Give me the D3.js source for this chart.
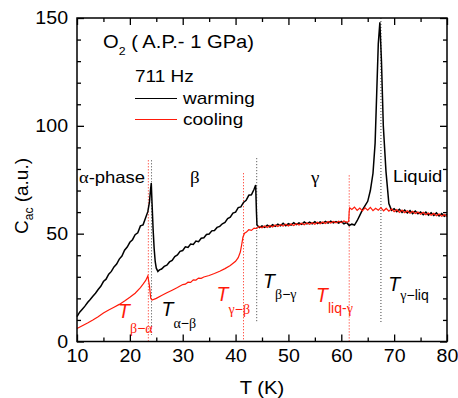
<!DOCTYPE html>
<html>
<head>
<meta charset="utf-8">
<script src="https://cdn.jsdelivr.net/npm/d3@7"></script>
<style>
  body { margin: 0; background: #fff; }
  svg { display: block; font-family: "Liberation Sans", Arial, sans-serif; }
</style>
</head>
<body>
<svg id="chart" width="458" height="398"></svg>
<script>
"use strict";

// warming run, [T (K), C_ac]
var warming = [
  [10.0,11.5],[10.5,13.6],[11.0,15.0],[11.5,16.4],[12.0,18.1],[12.5,19.5],[13.0,21.0],[13.5,22.4],
  [14.0,24.1],[14.5,25.6],[15.0,27.8],[15.5,28.9],[16.0,31.2],[16.5,32.5],[17.0,34.6],[17.5,35.9],
  [18.0,38.2],[18.5,39.6],[19.0,42.3],[19.5,43.8],[20.0,46.0],[20.5,47.2],[21.0,49.5],[21.5,50.4],
  [22.0,53.6],[22.5,54.1],[23.0,57.5],[23.4,60.2],[23.7,64.5],[23.9,70.0],[24.05,73.5],[24.2,64.0],
  [24.4,52.0],[24.6,43.0],[24.8,37.0],[25.0,34.0],[25.3,32.5],[25.6,33.2],[26.0,33.6],[26.5,34.8],
  [27.0,35.4],[27.5,36.9],[28.0,37.6],[28.5,39.4],[29.0,40.1],[29.5,41.8],[30.0,42.2],[30.5,43.9],
  [31.0,43.6],[31.5,45.2],[32.0,45.0],[32.5,46.6],[33.0,46.3],[33.5,47.9],[34.0,48.1],[34.5,49.6],
  [35.0,49.8],[35.5,51.3],[36.0,51.5],[36.5,52.9],[37.0,53.4],[37.5,54.6],[38.0,55.2],[38.5,57.0],
  [39.0,57.6],[39.5,59.5],[40.0,60.0],[40.5,62.1],[41.0,62.4],[41.5,64.5],[42.0,65.5],[42.5,67.8],
  [43.0,68.0],[43.5,70.6],[43.8,72.5],[43.95,60.0],[44.05,54.0],[44.5,52.8],[45.0,53.6],[45.5,52.9],
  [46.0,53.9],[46.5,53.1],[47.0,54.2],[47.5,53.4],[48.0,54.4],[48.5,53.6],[49.0,54.8],[49.5,53.7],
  [50.0,54.6],[50.5,54.0],[51.0,55.1],[51.5,54.2],[52.0,55.0],[52.5,54.3],[53.0,55.4],[53.5,54.5],
  [54.0,55.3],[54.5,54.6],[55.0,55.6],[55.5,54.7],[56.0,55.5],[56.5,54.8],[57.0,55.7],[57.5,54.9],
  [58.0,55.8],[58.5,55.0],[59.0,55.6],[59.5,54.9],[60.0,55.7],[60.5,54.6],[61.0,55.2],[61.5,53.8],
  [62.0,54.4],[62.5,54.0],[63.0,56.0],[63.5,58.5],[64.0,61.0],[64.5,63.0],[65.0,65.0],[65.5,70.0],
  [66.0,78.0],[66.4,92.0],[66.7,115.0],[67.0,138.0],[67.3,148.0],[67.6,130.0],[67.95,100.0],
  [68.45,79.0],[69.0,64.0],[69.5,60.8],[70.0,61.6],[70.5,60.2],[71.0,61.3],[71.5,59.8],[72.0,60.9],
  [72.5,59.6],[73.0,60.7],[73.5,59.3],[74.0,60.5],[74.5,59.2],[75.0,60.1],[75.5,58.8],[76.0,60.0],
  [76.5,58.6],[77.0,59.7],[77.5,58.4],[78.0,59.6],[78.5,58.2],[79.0,59.3],[79.5,58.1],[80.0,58.9]
];

// cooling run, [T (K), C_ac]
var cooling = [
  [10.0,6.0],[11.0,7.3],[12.0,8.6],[13.0,10.0],[14.0,11.5],[15.0,13.2],[16.0,14.6],[17.0,15.9],
  [18.0,17.2],[19.0,18.8],[20.0,20.5],[21.0,22.4],[22.0,25.0],[22.5,26.6],[23.0,28.3],[23.4,30.4],
  [23.7,26.0],[23.95,20.0],[24.2,19.2],[25.0,20.0],[26.0,21.3],[27.0,22.6],[28.0,23.8],[29.0,25.0],
  [30.0,26.4],[30.5,26.6],[31.0,27.5],[31.5,27.4],[32.0,28.6],[32.5,28.5],[33.0,29.4],[33.5,29.3],
  [34.0,29.9],[35.0,30.6],[36.0,31.5],[37.0,32.6],[38.0,33.8],[39.0,35.2],[40.0,37.2],[40.5,38.9],
  [40.9,41.5],[41.2,45.5],[41.4,48.5],[41.7,50.2],[42.0,50.6],[42.5,51.8],[43.0,51.5],[43.5,52.6],
  [44.0,52.4],[44.5,53.3],[45.0,52.7],[45.5,53.6],[46.0,52.9],[46.5,53.8],[47.0,53.1],[47.5,54.0],
  [48.0,53.3],[48.5,54.2],[49.0,53.5],[49.5,54.4],[50.0,53.6],[50.5,54.5],[51.0,53.8],[51.5,54.6],
  [52.0,54.0],[52.5,54.8],[53.0,54.1],[53.5,55.0],[54.0,54.3],[54.5,55.1],[55.0,54.4],[55.5,55.3],
  [56.0,54.6],[56.5,55.4],[57.0,54.7],[57.5,55.6],[58.0,54.9],[58.5,55.7],[59.0,55.0],[59.5,55.8],
  [60.0,55.1],[60.5,55.9],[61.0,55.3],[61.4,55.6],[61.5,60.5],[61.6,62.0],[62.0,61.2],[62.5,62.3],
  [63.0,60.8],[63.5,61.9],[64.0,60.6],[64.5,62.0],[65.0,60.9],[65.5,62.2],[66.0,60.7],[66.5,61.8],
  [67.0,60.9],[67.5,62.1],[68.0,60.6],[68.5,61.7],[69.0,60.4],[69.5,61.5],[70.0,60.2],[70.5,61.2],
  [71.0,59.9],[71.5,60.9],[72.0,59.7],[72.5,60.6],[73.0,59.5],[73.5,60.4],[74.0,59.3],[74.5,60.1],
  [75.0,59.0],[75.5,59.9],[76.0,58.8],[76.5,59.6],[77.0,58.5],[77.5,59.4],[78.0,58.3],[78.5,59.1],
  [79.0,58.1],[79.5,58.9],[80.0,57.9]
];

var xMajor = [10, 20, 30, 40, 50, 60, 70, 80];
var xMinor = [15, 25, 35, 45, 55, 65, 75];
var yMajor = [0, 50, 100, 150];
var yMinor = [10, 20, 30, 40, 60, 70, 80, 90, 110, 120, 130, 140];

// transition temperatures: T, run, top / bottom of dotted marker (C units)
var markT   = [23.5, 24.1, 41.5, 44.0, 61.5, 67.5];
var markRun = ["cooling", "warming", "cooling", "warming", "cooling", "warming"];
var markTop = [84, 84, 78, 85, 77, 150];
var markBot = [0, 3, 0, 8.5, 0, 9];

var RED = "#ff1a0a";
var SX = 1.12; // the original's lettering is a little wide

var svg = d3.select("#chart");
var x = d3.scaleLinear().domain([10, 80]).range([77, 447]);
var y = d3.scaleLinear().domain([0, 150]).range([341.5, 18]);

function stretch(sel) { sel.attr("transform", "scale(" + SX + ",1)"); }

function addAxis(gen, tx, ty, vals, size, labels) {
  var g = svg.append("g").attr("transform", "translate(" + tx + "," + ty + ")")
    .call(gen.tickValues(vals).tickSize(size).tickPadding(8)
      .tickFormat(labels ? d3.format("d") : ""));
  g.select(".domain").remove();
  g.selectAll("line").attr("stroke", "#000").attr("stroke-width", 1.3);
  g.selectAll("text").attr("font-size", 17.5).attr("font-family", "Liberation Sans, Arial, sans-serif")
    .attr("fill", "#000").call(stretch);
  return g;
}

addAxis(d3.axisBottom(x), 0, 341.5, xMajor, -7, true);
addAxis(d3.axisBottom(x), 0, 341.5, xMinor, -4, false);
addAxis(d3.axisTop(x), 0, 18, xMajor, -7, false);
addAxis(d3.axisTop(x), 0, 18, xMinor, -4, false);
addAxis(d3.axisLeft(y), 77, 0, yMajor, -7, true);
addAxis(d3.axisLeft(y), 77, 0, yMinor, -4, false);
addAxis(d3.axisRight(y), 447, 0, yMajor, -7, false);
addAxis(d3.axisRight(y), 447, 0, yMinor, -4, false);

// dotted transition markers
markT.forEach(function(t, i) {
  svg.append("line")
    .attr("x1", x(t)).attr("x2", x(t))
    .attr("y1", y(markTop[i])).attr("y2", y(markBot[i]))
    .attr("stroke", markRun[i] == "cooling" ? RED : "#444")
    .attr("stroke-width", 1)
    .attr("stroke-dasharray", "1,2");
});

var line = d3.line().x(function(d) { return x(d[0]); }).y(function(d) { return y(d[1]); });

svg.append("path").datum(warming).attr("d", line)
  .attr("fill", "none").attr("stroke", "#000").attr("stroke-width", 1.5);
svg.append("path").datum(cooling).attr("d", line)
  .attr("fill", "none").attr("stroke", RED).attr("stroke-width", 1.2);

// frame
svg.append("rect").attr("x", 77).attr("y", 18).attr("width", 370).attr("height", 323.5)
  .attr("fill", "none").attr("stroke", "#000").attr("stroke-width", 1.5);

function label(px, py, size, fill, anchor) {
  return svg.append("text")
    .attr("transform", "translate(" + px + "," + py + ") scale(" + SX + ",1)")
    .attr("font-size", size).attr("fill", fill || "#000")
    .attr("text-anchor", anchor || "start");
}

// title and legend
var title = label(103, 48, 18);
title.append("tspan").text("O");
title.append("tspan").attr("font-size", 11).attr("dy", 7).text("2");
title.append("tspan").attr("dy", -7).text(" ( A.P.- 1 GPa)");

label(135, 81.5, 17).text("711 Hz");
svg.append("line").attr("x1", 135).attr("x2", 177).attr("y1", 98.5).attr("y2", 98.5)
  .attr("stroke", "#000").attr("stroke-width", 1.2);
label(183, 104, 17).text("warming");
svg.append("line").attr("x1", 135).attr("x2", 177).attr("y1", 119.5).attr("y2", 119.5)
  .attr("stroke", RED).attr("stroke-width", 1.2);
label(183, 124.5, 17).text("cooling");

// phase names
var a = label(79, 183, 16.5);
a.append("tspan").attr("font-family", "Liberation Serif, serif").text("α");
a.append("tspan").text("-phase");
label(190, 183, 17).attr("font-family", "Liberation Serif, serif").text("β");
label(311, 183, 17).attr("font-family", "Liberation Serif, serif").text("γ");
label(393, 182, 16.5).text("Liquid");

// transition labels: one text, italic T then a subscript tucked below-right
function tLabel(tx, ty, sy, sub, fill) {
  var t = svg.append("text").attr("x", tx).attr("y", ty).attr("fill", fill);
  t.append("tspan").attr("font-size", 19.5).attr("font-style", "italic").text("T");
  sub.forEach(function(part, k) {
    var sp = t.append("tspan").attr("font-size", 14).text(part);
    if (k == 0) sp.attr("x", tx + 12).attr("y", sy);
    if (/[α-ω]/.test(part)) sp.attr("font-family", "Liberation Serif, serif");
  });
}
tLabel(118, 318, 332.5, ["β", "−", "α"], RED);
tLabel(161.5, 316, 327.5, ["α", "−", "β"], "#000");
tLabel(216.5, 301, 314, ["γ", "−", "β"], RED);
tLabel(263, 287.7, 298.5, ["β", "−", "γ"], "#000");
tLabel(316, 301.5, 313, ["liq-", "γ"], RED);
tLabel(388.3, 291, 299.5, ["γ", "−liq"], "#000");

// axis titles
svg.append("text").attr("transform", "translate(28,196) rotate(-90)")
  .attr("text-anchor", "middle").attr("font-size", 19)
  .call(function(t) {
    t.append("tspan").text("C");
    t.append("tspan").attr("font-size", 12).attr("dy", 5).text("ac");
    t.append("tspan").attr("dy", -5).text(" (a.u.)");
  });
label(262, 394, 18, "#000", "middle").text("T (K)");
</script>
</body>
</html>
